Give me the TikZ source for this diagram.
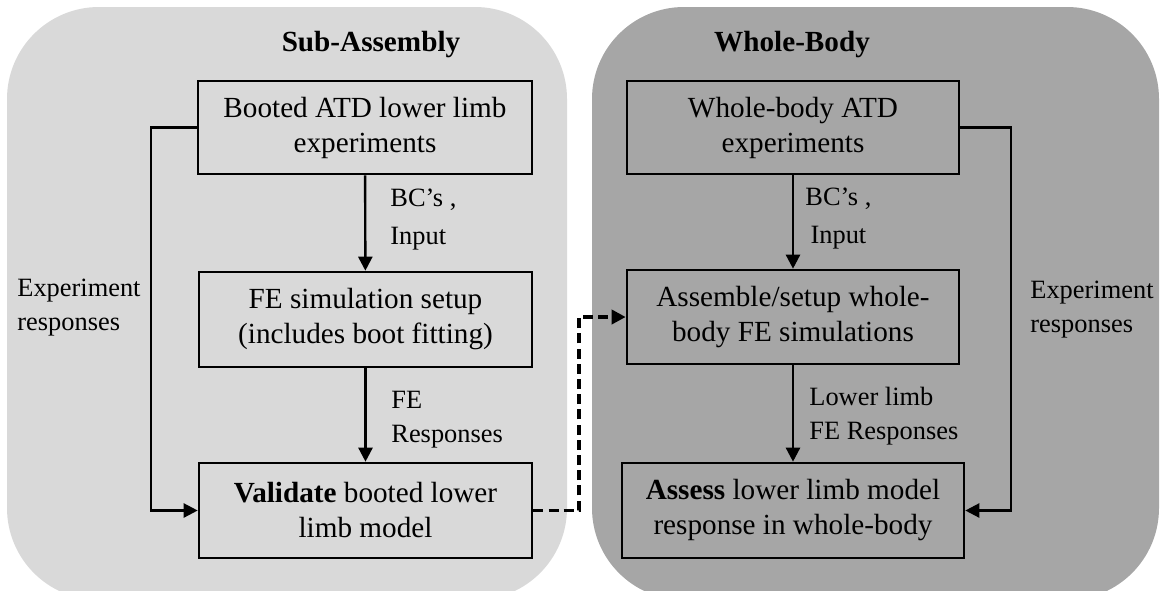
\documentclass[tikz,border=0pt]{standalone}
\usepackage{fontspec}
\setmainfont{Liberation Serif}
\usetikzlibrary{arrows.meta}
\definecolor{lightpanel}{HTML}{D9D9D9}
\definecolor{darkpanel}{HTML}{A6A6A6}
\begin{document}
\begin{tikzpicture}[x=0.5pt,y=-0.5pt,
  panel/.style={rounded corners=46pt},
  flowbox/.style={draw, line width=1.3pt, inner sep=0pt, align=center,
    font=\fontsize{14.6}{17.5}\selectfont},
  lbl/.style={inner sep=0pt, font=\fontsize{13.2}{17}\selectfont},
  arr/.style={line width=1.2pt, -{Triangle[length=7pt,width=7pt]}},
  darr/.style={arr, dash pattern=on 5pt off 2.6pt, line width=1.8pt},
  ttl/.style={inner sep=0pt, font=\fontsize{14.6}{17.5}\selectfont\bfseries}]
\useasboundingbox (0,0) rectangle (1162,590);
\clip (0,0) rectangle (1162,590);
\fill[lightpanel, panel] (7,7) rectangle (567,600);
\fill[darkpanel, panel] (592,7) rectangle (1159,600);

% titles
\node[ttl] (t1) at (371,45) {Sub-Assembly};
\node[ttl] (t2) at (792,45) {Whole-Body};

% left column
\node[flowbox, minimum width=167pt, minimum height=46.5pt] (b1) at (365,127.5)
  {Booted ATD lower limb\\experiments};
\node[flowbox, minimum width=166.5pt, minimum height=47.5pt] (b2) at (365.5,319.5)
  {FE simulation setup\\(includes boot fitting)};
\node[flowbox, minimum width=166.5pt, minimum height=47.5pt] (b3) at (365.5,510.5)
  {\textbf{Validate} booted lower\\limb model};

% right column
\node[flowbox, minimum width=166pt, minimum height=46.5pt] (w1) at (793,127.5)
  {Whole-body ATD\\experiments};
\node[flowbox, minimum width=166pt, minimum height=47pt] (w2) at (793,317)
  {Assemble/setup whole-\\body FE simulations};
\node[flowbox, minimum width=171pt, minimum height=47.5pt] (w3) at (793,510.5)
  {\textbf{Assess} lower limb model\\response in whole-body};

% labels
\node[lbl, anchor=west, align=left, font=\fontsize{13.2}{19}\selectfont] (l1) at (390,220) {BC’s ,\\Input};
\node[lbl, anchor=west, align=left] (l2) at (391,419.5) {FE\\Responses};
\node[lbl, anchor=west, align=left] (l3) at (17,307.5) {Experiment\\responses};
\node[lbl, anchor=west, align=center, font=\fontsize{13.2}{19}\selectfont] (r1) at (805,219) {BC’s ,\\Input};
\node[lbl, anchor=west, align=left] (r2) at (809,416.5) {Lower limb\\FE Responses};
\node[lbl, anchor=west, align=left] (r3) at (1030,309.5) {Experiment\\responses};

% connectors
\coordinate (lc) at (151,127.5);
\coordinate (rc) at (1011,127.5);
\coordinate (dc) at (579,510.5);
\draw[arr] (b1) -- (b2);
\draw[arr] (b2) -- (b3);
\draw[arr] (b1.west) -- (lc) |- (b3.west);
\draw[arr] (w1) -- (w2);
\draw[arr] (w2) -- (w3);
\draw[arr] (w1.east) -- (rc) |- (w3.east);
\draw[darr] (b3.east) -- (dc) |- (w2.west);
\end{tikzpicture}
\end{document}
